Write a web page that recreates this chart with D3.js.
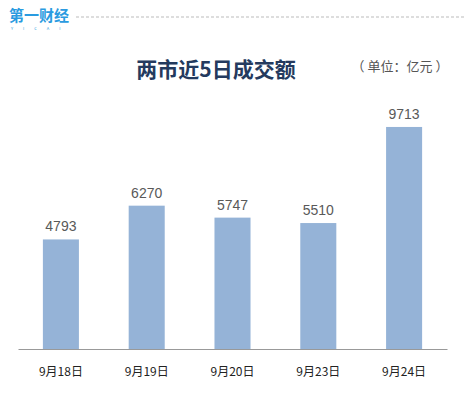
<!DOCTYPE html><html><head><meta charset="utf-8"><script src="https://d3js.org/d3.v7.min.js"></script>
<style>body{margin:0;background:#fff}</style></head><body><svg id="c" width="474" height="408"></svg>
<script>
const categories=["9月18日","9月19日","9月20日","9月23日","9月24日"];
const values=[4793,6270,5747,5510,9713];
const svg=d3.select("#c");
const font="'Noto Sans CJK SC','Noto Sans',sans-serif";
svg.append("rect").attr("width",474).attr("height",408).attr("fill","#fff");
svg.append("text").attr("x",9).attr("y",21).attr("font-family",font).attr("font-weight","bold").attr("font-size",15).attr("fill","#2a9be0").text("第一财经");
svg.append("text").attr("x",11).attr("y",30).attr("font-family",font).attr("font-size",4).attr("letter-spacing",10).attr("fill","#2a9be0").text("YICAI");
svg.append("line").attr("x1",76).attr("x2",465).attr("y1",17).attr("y2",17).attr("stroke","#bbb").attr("stroke-dasharray","3,2");
svg.append("text").attr("x",216).attr("y",77).attr("text-anchor","middle").attr("font-family",font).attr("font-weight","bold").attr("font-size",21).attr("fill","#243a5e").text("两市近5日成交额");
svg.append("text").attr("x",400).attr("y",71).attr("text-anchor","middle").attr("font-family",font).attr("font-size",13).attr("fill","#555").text("（ 单位：亿元 ）");
const x=d3.scaleBand().domain(categories).range([18,447]).paddingInner(0.58).paddingOuter(0.29);
const y=d3.scaleLinear().domain([0,10000]).range([349,120.4]);
svg.selectAll("rect.b").data(values).join("rect").attr("class","b").attr("x",(d,i)=>x(categories[i])).attr("width",x.bandwidth()).attr("y",d=>y(d)).attr("height",d=>349-y(d)).attr("fill","#95b3d7");
svg.selectAll("text.v").data(values).join("text").attr("class","v").attr("x",(d,i)=>x(categories[i])+x.bandwidth()/2).attr("y",d=>y(d)-8).attr("text-anchor","middle").attr("font-family","'Liberation Sans',Arial,sans-serif").attr("font-size",14).attr("fill","#595959").text(d=>d);
const ax=svg.append("g").attr("transform","translate(0,349)").call(d3.axisBottom(x).tickSize(0).tickPadding(18));
ax.select(".domain").attr("stroke","#999");
ax.selectAll("text").attr("font-family",font).attr("font-size",12).attr("fill","#222");
</script></body></html>
